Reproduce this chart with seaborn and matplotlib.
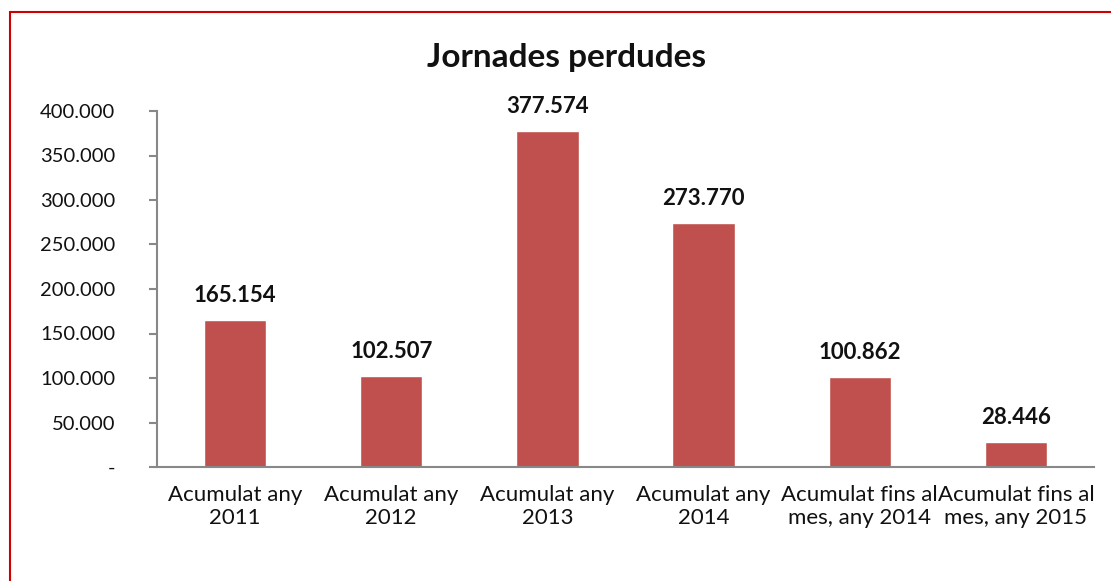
import matplotlib
matplotlib.use('Agg')
import matplotlib.pyplot as plt
import seaborn as sns
import numpy as np
import pandas as pd
from matplotlib.patches import Rectangle
from matplotlib.ticker import FuncFormatter

categories = ['Acumulat any\n2011', 'Acumulat any\n2012', 'Acumulat any\n2013',
              'Acumulat any\n2014', 'Acumulat fins al\nmes, any 2014',
              'Acumulat fins al\nmes, any 2015']
values = [165154, 102507, 377574, 273770, 100862, 28446]
y_ticks = [0, 50000, 100000, 150000, 200000, 250000, 300000, 350000, 400000]

sns.set_style('white')
plt.rcParams['font.family'] = ['Lato', 'DejaVu Sans']


def fmt(v, pos=None):
    if v == 0:
        return '-'
    return f'{int(round(v)):,}'.replace(',', '.')


df = pd.DataFrame({'cat': categories, 'val': values})

fig = plt.figure(figsize=(11.11, 5.81), dpi=100)
ax = fig.add_axes([157 / 1111, 1 - 467 / 581, (1094 - 157) / 1111, (467 - 111) / 581])

sns.barplot(data=df, x='cat', y='val', color='#C0504D', saturation=1,
            width=0.4, ax=ax)

ax.set_ylim(0, 400000)
ax.set_xlim(-0.5, len(categories) - 0.5)
ax.set_yticks(y_ticks)
ax.yaxis.set_major_formatter(FuncFormatter(fmt))
ax.set_xlabel('')
ax.set_ylabel('')

# ticks: labels at centres, tick marks at category boundaries
ax.tick_params(axis='x', which='major', length=0, labelsize=16, pad=13, colors='#111111')
ax.set_xticks(np.arange(-0.5, len(categories), 1), minor=True)
ax.tick_params(axis='x', which='minor', length=6, color='#888888', width=1.5)
ax.tick_params(axis='y', length=6, color='#888888', width=1.5, labelsize=14.5,
               pad=24, colors='#111111', left=True)

for s in ['top', 'right']:
    ax.spines[s].set_visible(False)
for s in ['left', 'bottom']:
    ax.spines[s].set_color('#888888')
    ax.spines[s].set_linewidth(1.5)

for cont in ax.containers:
    ax.bar_label(cont, labels=[fmt(v) for v in values], padding=10,
                 fontsize=16, fontweight='bold', color='#111111')

fig.text(567 / 1111, 1 - 57 / 581, 'Jornades perdudes', ha='center', va='center',
         fontsize=24, fontweight='bold', color='#111111')

# red outer frame
fig.patches.append(Rectangle((10 / 1111, -0.05), 1.1, 1 - 12 / 581 + 0.05,
                             transform=fig.transFigure, fill=False,
                             edgecolor='#D00000', linewidth=1.5))

fig.savefig('out.png', dpi=100)
